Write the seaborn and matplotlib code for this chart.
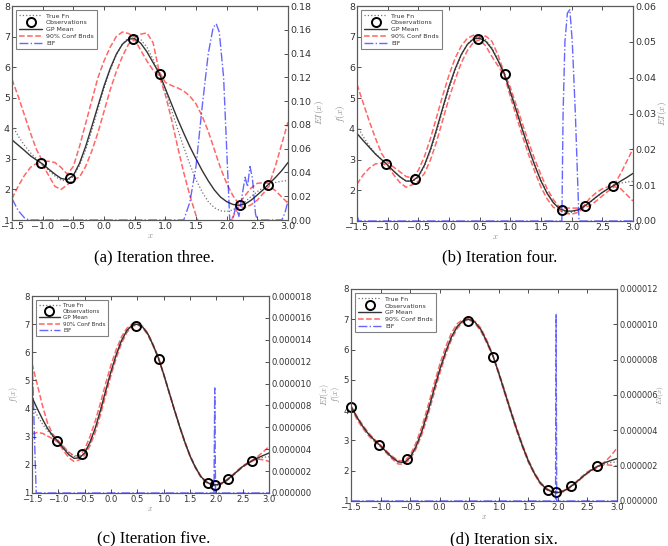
import numpy as np
import matplotlib
matplotlib.use("Agg")
import matplotlib.pyplot as plt
import seaborn as sns
from matplotlib.ticker import FormatStrFormatter

sns.set_theme(style="white")
plt.rcParams["font.family"] = ["DejaVu Sans"]
plt.rcParams["mathtext.fontset"] = "cm"

# ---------------- data ----------------
xs = [-1.5, -1.4, -1.3, -1.2, -1.1, -1.0, -0.9, -0.8, -0.7, -0.6,
      -0.5, -0.4, -0.3, -0.2, -0.1, 0.0, 0.1, 0.2, 0.3, 0.4,
      0.5, 0.6, 0.7, 0.8, 0.9, 1.0, 1.1, 1.2, 1.3, 1.4,
      1.5, 1.6, 1.7, 1.8, 1.9, 2.0, 2.1, 2.2, 2.3, 2.4,
      2.5, 2.6, 2.7, 2.8, 2.9, 3.0]

true_fn = [4.10, 3.75, 3.45, 3.20, 3.00, 2.82, 2.62, 2.44, 2.30, 2.28,
           2.42, 2.78, 3.28, 3.92, 4.62, 5.30, 5.90, 6.40, 6.76, 6.96,
           7.00, 6.90, 6.65, 6.25, 5.80, 5.22, 4.60, 3.98, 3.38, 2.82,
           2.32, 1.92, 1.60, 1.40, 1.30, 1.28, 1.33, 1.45, 1.60, 1.77,
           1.93, 2.06, 2.16, 2.23, 2.27, 2.29]

# panel (a)
mean_a = [3.62, 3.45, 3.28, 3.10, 2.96, 2.83, 2.66, 2.50, 2.36, 2.32,
          2.46, 2.85, 3.40, 4.05, 4.72, 5.38, 5.95, 6.42, 6.75, 6.92,
          6.93, 6.78, 6.50, 6.15, 5.80, 5.30, 4.80, 4.30, 3.84, 3.40,
          3.00, 2.62, 2.28, 1.98, 1.75, 1.60, 1.51, 1.48, 1.52, 1.65,
          1.82, 2.00, 2.20, 2.40, 2.62, 2.88]
upper_a = [5.60, 5.05, 4.45, 3.85, 3.30, 2.92, 2.92, 2.88, 2.72, 2.50,
           2.75, 3.40, 4.15, 4.90, 5.65, 6.20, 6.65, 7.00, 7.15, 7.10,
           6.98, 7.08, 7.12, 6.80, 5.85, 5.50, 5.40, 5.32, 5.22, 5.05,
           4.80, 4.40, 3.90, 3.30, 2.70, 2.20, 1.80, 1.52, 1.80, 2.05,
           2.20, 2.22, 2.20, 2.80, 3.50, 4.20]
lower_a = [1.70, 2.10, 2.45, 2.72, 2.85, 2.80, 2.45, 2.10, 2.00, 2.15,
           2.32, 2.40, 2.75, 3.25, 3.85, 4.55, 5.25, 5.85, 6.35, 6.75,
           6.90, 6.55, 6.20, 5.90, 5.72, 5.10, 4.30, 3.40, 2.55, 1.80,
           1.15, 0.60, 0.30, 0.20, 0.30, 0.70, 1.10, 1.45, 1.40, 1.50,
           1.65, 1.88, 2.12, 1.95, 1.75, 1.55]
eif_a_x = [-1.5, -1.4, -1.3, -1.22, 1.3, 1.4, 1.5, 1.6, 1.7, 1.78, 1.83,
           1.88, 1.95, 2.0, 2.05, 2.1, 2.15, 2.2, 2.25, 2.3, 2.34, 2.38,
           2.42, 2.47, 2.5, 2.9, 2.95, 3.0]
eif_a_y = [0.018, 0.008, 0.002, 0.0, 0.0, 0.015, 0.045, 0.095, 0.14, 0.162,
           0.165, 0.158, 0.12, 0.06, 0.0, 0.0, 0.012, 0.003, 0.02, 0.036,
           0.028, 0.045, 0.035, 0.005, 0.0, 0.0, 0.006, 0.016]
obs_a_x = [-1.02, -0.55, 0.48, 0.91, 2.22, 2.67]
obs_a_y = [2.85, 2.38, 6.93, 5.77, 1.48, 2.14]

# panel (b)
mean_b = [3.85, 3.62, 3.40, 3.18, 3.00, 2.82, 2.62, 2.44, 2.30, 2.30,
          2.45, 2.82, 3.35, 4.00, 4.70, 5.38, 5.95, 6.42, 6.75, 6.93,
          6.95, 6.85, 6.60, 6.22, 5.80, 5.20, 4.58, 3.95, 3.35, 2.80,
          2.30, 1.90, 1.60, 1.40, 1.33, 1.32, 1.36, 1.47, 1.62, 1.78,
          1.93, 2.06, 2.17, 2.30, 2.42, 2.55]
upper_b = [5.45, 4.85, 4.25, 3.70, 3.20, 2.90, 2.75, 2.60, 2.45, 2.40,
           2.65, 3.10, 3.70, 4.40, 5.10, 5.75, 6.30, 6.70, 6.95, 7.05,
           6.98, 7.02, 6.85, 6.40, 5.82, 5.35, 4.75, 4.15, 3.55, 3.00,
           2.50, 2.05, 1.70, 1.45, 1.42, 1.42, 1.42, 1.50, 1.75, 1.92,
           2.05, 2.12, 2.20, 2.55, 2.95, 3.35]
lower_b = [2.20, 2.50, 2.72, 2.86, 2.88, 2.80, 2.50, 2.25, 2.10, 2.18,
           2.30, 2.55, 3.00, 3.60, 4.30, 5.00, 5.60, 6.15, 6.55, 6.82,
           6.90, 6.70, 6.35, 6.05, 5.75, 5.05, 4.40, 3.75, 3.15, 2.60,
           2.10, 1.72, 1.45, 1.35, 1.25, 1.22, 1.28, 1.44, 1.50, 1.65,
           1.82, 1.98, 2.12, 2.05, 1.85, 1.65]
eif_b_x = [-1.5, -1.47, 1.84, 1.86, 1.89, 1.93, 1.97, 2.01, 2.06, 2.10, 2.12, 3.0]
eif_b_y = [0.0015, 0.0, 0.0, 0.03, 0.05, 0.058, 0.059, 0.05, 0.03, 0.01, 0.0, 0.0]
obs_b_x = [-1.02, -0.55, 0.48, 0.91, 1.84, 2.22, 2.67]
obs_b_y = [2.85, 2.38, 6.93, 5.77, 1.37, 1.48, 2.14]

# panel (c)
mean_c = [4.40, 4.00, 3.62, 3.28, 3.02, 2.82, 2.58, 2.36, 2.23, 2.25,
          2.42, 2.80, 3.30, 3.94, 4.64, 5.32, 5.92, 6.42, 6.77, 6.96,
          7.00, 6.90, 6.65, 6.25, 5.80, 5.22, 4.60, 3.98, 3.38, 2.82,
          2.32, 1.92, 1.60, 1.40, 1.31, 1.29, 1.34, 1.46, 1.61, 1.78,
          1.94, 2.06, 2.17, 2.26, 2.34, 2.42]
upper_c = [5.60, 4.85, 4.10, 3.45, 3.08, 2.86, 2.65, 2.45, 2.32, 2.33,
           2.55, 3.00, 3.55, 4.20, 4.90, 5.55, 6.10, 6.55, 6.85, 7.00,
           7.02, 6.93, 6.68, 6.28, 5.82, 5.24, 4.62, 4.00, 3.40, 2.84,
           2.34, 1.94, 1.62, 1.42, 1.33, 1.31, 1.36, 1.48, 1.63, 1.80,
           1.96, 2.08, 2.19, 2.32, 2.48, 2.65]
lower_c = [3.10, 3.15, 3.12, 3.02, 2.92, 2.79, 2.50, 2.25, 2.12, 2.18,
           2.34, 2.68, 3.15, 3.78, 4.48, 5.18, 5.80, 6.32, 6.70, 6.92,
           6.98, 6.87, 6.62, 6.22, 5.78, 5.20, 4.58, 3.96, 3.36, 2.80,
           2.30, 1.90, 1.58, 1.38, 1.29, 1.27, 1.32, 1.44, 1.59, 1.76,
           1.92, 2.04, 2.15, 2.20, 2.18, 2.12]
eif_c_x = [-1.5, -1.47, -1.44, -1.42, 1.955, 1.97, 1.985, 3.0]
eif_c_y = [1.24e-5, 8e-6, 3e-6, 0.0, 0.0, 9.6e-6, 0.0, 0.0]
obs_c_x = [-1.02, -0.55, 0.48, 0.91, 1.84, 1.97, 2.22, 2.67]
obs_c_y = [2.85, 2.38, 6.93, 5.77, 1.37, 1.30, 1.48, 2.14]

# panel (d)
mean_d = [4.12, 3.77, 3.46, 3.20, 3.00, 2.82, 2.62, 2.43, 2.29, 2.27,
          2.43, 2.80, 3.31, 3.95, 4.65, 5.33, 5.92, 6.42, 6.77, 6.96,
          7.00, 6.90, 6.65, 6.25, 5.80, 5.22, 4.60, 3.98, 3.38, 2.82,
          2.32, 1.92, 1.60, 1.40, 1.30, 1.28, 1.33, 1.45, 1.60, 1.77,
          1.93, 2.06, 2.17, 2.27, 2.34, 2.40]
upper_d = [4.14, 3.80, 3.50, 3.24, 3.03, 2.85, 2.65, 2.47, 2.34, 2.32,
           2.50, 2.92, 3.46, 4.12, 4.82, 5.50, 6.08, 6.55, 6.86, 7.00,
           7.02, 6.93, 6.70, 6.30, 5.82, 5.26, 4.65, 4.03, 3.43, 2.87,
           2.36, 1.95, 1.63, 1.42, 1.32, 1.30, 1.35, 1.47, 1.62, 1.80,
           1.96, 2.08, 2.18, 2.30, 2.50, 2.75]
lower_d = [4.10, 3.70, 3.40, 3.15, 2.96, 2.80, 2.58, 2.38, 2.22, 2.22,
           2.38, 2.72, 3.20, 3.82, 4.52, 5.20, 5.82, 6.33, 6.70, 6.93,
           6.98, 6.86, 6.60, 6.20, 5.78, 5.18, 4.55, 3.93, 3.33, 2.78,
           2.28, 1.89, 1.57, 1.38, 1.29, 1.26, 1.31, 1.43, 1.58, 1.75,
           1.91, 2.04, 2.14, 2.20, 2.18, 2.15]
eif_d_x = [-1.5, 1.96, 1.97, 1.98, 3.0]
eif_d_y = [0.0, 0.0, 1.06e-5, 0.0, 0.0]
obs_d_x = [-1.5, -1.02, -0.55, 0.48, 0.91, 1.84, 1.97, 2.22, 2.67]
obs_d_y = [4.12, 2.85, 2.38, 6.93, 5.77, 1.37, 1.30, 1.48, 2.14]

x_ticks = [-1.5, -1.0, -0.5, 0.0, 0.5, 1.0, 1.5, 2.0, 2.5, 3.0]
f_ticks = [1, 2, 3, 4, 5, 6, 7, 8]
captions = ["(a) Iteration three.", "(b) Iteration four.",
            "(c) Iteration five.", "(d) Iteration six."]

# ---------------- figure ----------------
W, H = 668, 546
fig = plt.figure(figsize=(W / 100, H / 100), dpi=100)
fig.patch.set_facecolor("white")


def add_ax(l, t, r, b):
    return fig.add_axes([l / W, 1 - b / H, (r - l) / W, (b - t) / H])


panels = [
    dict(box=(12, 6, 288, 220), mean=mean_a, up=upper_a, lo=lower_a,
         ex=eif_a_x, ey=eif_a_y, ox=obs_a_x, oy=obs_a_y,
         emax=0.18, estep=0.02, efmt="%.2f", cap=(154, 257),
         fs=6.8, rfs=6.8, lfs=4.5, fx=None, ex_lab=313, efs=6.8),
    dict(box=(357, 6, 633, 221), mean=mean_b, up=upper_b, lo=lower_b,
         ex=eif_b_x, ey=eif_b_y, ox=obs_b_x, oy=obs_b_y,
         emax=0.06, estep=0.01, efmt="%.2f", cap=(500, 257),
         fs=6.8, rfs=6.8, lfs=4.5, fx=347, ex_lab=656, efs=6.8),
    dict(box=(32, 296, 269, 493), mean=mean_c, up=upper_c, lo=lower_c,
         ex=eif_c_x, ey=eif_c_y, ox=obs_c_x, oy=obs_c_y,
         emax=0.000018, estep=0.000002, efmt="%.6f", cap=(154, 539),
         fs=6.1, rfs=6.1, lfs=4.1, fx=20, ex_lab=318, efs=6.1),
    dict(box=(351, 289, 617, 501), mean=mean_d, up=upper_d, lo=lower_d,
         ex=eif_d_x, ey=eif_d_y, ox=obs_d_x, oy=obs_d_y,
         emax=0.000012, estep=0.000002, efmt="%.6f", cap=(504, 539),
         fs=6.2, rfs=5.9, lfs=4.5, fx=342, ex_lab=655, efs=5.3),
]

spine_col = "0.35"
lab_col = "0.55"

for i, p in enumerate(panels):
    l, t, r, b = p["box"]
    ax = add_ax(l, t, r, b)
    ax.set_facecolor("white")
    sns.lineplot(x=xs, y=p["up"], ax=ax, color="red", alpha=0.6,
                 linestyle="--", linewidth=1.1, label="90% Conf Bnds",
                 sort=False, legend=False)
    sns.lineplot(x=xs, y=p["lo"], ax=ax, color="red", alpha=0.6,
                 linestyle="--", linewidth=1.1, sort=False, legend=False)
    sns.lineplot(x=xs, y=true_fn, ax=ax, color="0.45", linestyle=":",
                 linewidth=0.9, label="True Fn", sort=False, legend=False)
    sns.lineplot(x=xs, y=p["mean"], ax=ax, color="0.2", linewidth=1.0,
                 label="GP Mean", sort=False, legend=False)
    sns.lineplot(x=p["ox"], y=p["oy"], ax=ax, marker="o", linestyle="",
                 markersize=6.5, markerfacecolor="none",
                 markeredgecolor="black", markeredgewidth=1.4,
                 label="Observations", sort=False, legend=False,
                 clip_on=False, zorder=5)
    ax.set_xlim(-1.5, 3.0)
    ax.set_ylim(1, 8)
    ax.set_xticks(x_ticks)
    ax.set_yticks(f_ticks)

    ax2 = ax.twinx()
    sns.lineplot(x=p["ex"], y=p["ey"], ax=ax2, color="blue", alpha=0.6,
                 linestyle="-.", linewidth=1.0, label="EIF", sort=False,
                 legend=False)
    ax2.set_ylim(0, p["emax"])
    ax2.set_yticks(np.arange(0, p["emax"] + p["estep"] * 0.01, p["estep"]))
    ax2.yaxis.set_major_formatter(FormatStrFormatter(p["efmt"]))

    for a in (ax, ax2):
        for s in a.spines.values():
            s.set_color(spine_col)
            s.set_linewidth(0.8)
    ax.tick_params(axis="both", direction="in", length=3, width=0.6,
                   labelsize=p["fs"], pad=1.5, colors="0.2", top=True,
                   bottom=True, left=True, right=False)
    ax2.tick_params(axis="y", direction="in", length=3, width=0.6,
                    labelsize=p["rfs"], pad=1.5, colors="0.2", right=True)

    wpx, hpx = r - l, b - t
    ax.set_xlabel("$x$", fontsize=p["fs"] - 0.5, color=lab_col, labelpad=0)
    if p["fx"] is not None:
        ax.set_ylabel("$f(x)$", fontsize=p["fs"], color=lab_col)
        ax.yaxis.set_label_coords((p["fx"] - l) / wpx, 0.5)
    ax2.set_ylabel("$EI(x)$", fontsize=p["efs"], color=lab_col)
    ax2.yaxis.set_label_coords((p["ex_lab"] - l) / wpx, 0.5)

    # legend (collect from both axes, fixed order)
    lines = {ln.get_label(): ln for ln in ax.get_lines() + ax2.get_lines()}
    order = ["True Fn", "Observations", "GP Mean", "90% Conf Bnds", "EIF"]
    leg = ax2.legend([lines[k] for k in order], order, loc="upper left",
                     fontsize=p["lfs"], frameon=True, fancybox=False,
                     edgecolor="0.5", framealpha=1, labelspacing=0.25,
                     borderpad=0.45, handlelength=3.7, handletextpad=0.6,
                     borderaxespad=0.7, numpoints=1)
    leg.get_frame().set_linewidth(0.8)
    for tx in leg.get_texts():
        tx.set_color("0.2")

    cx, cy = p["cap"]
    fig.text(cx / W, 1 - cy / H, captions[i], ha="center", va="center",
             fontsize=12, family=["Liberation Serif", "DejaVu Serif"],
             color="black")

fig.savefig("out.png", dpi=100)
